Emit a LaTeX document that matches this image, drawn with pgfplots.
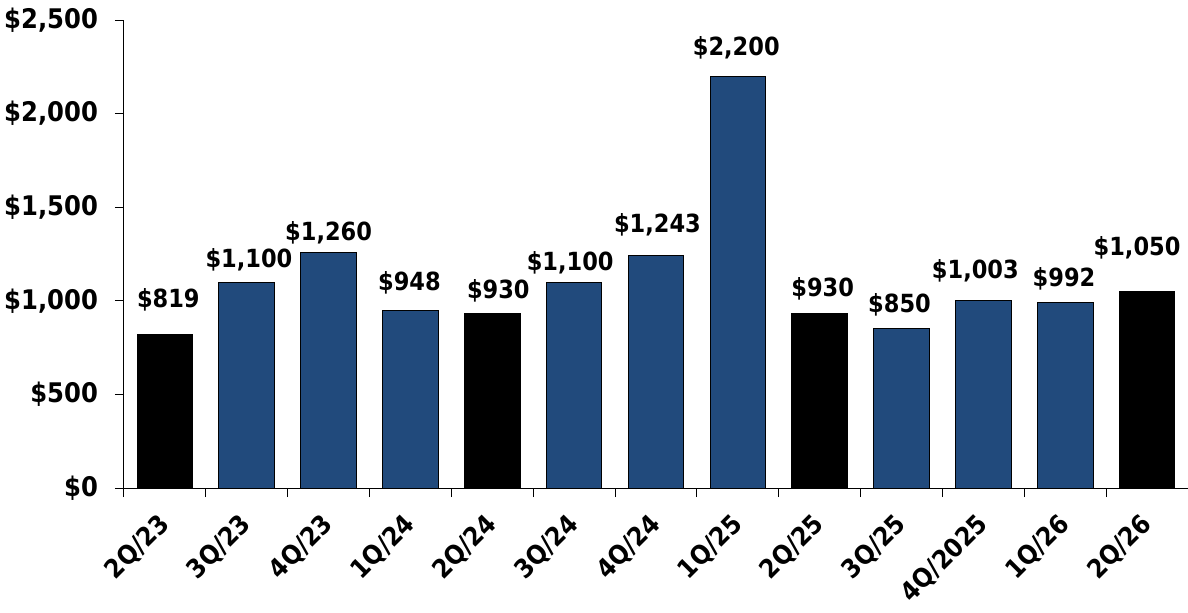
\documentclass[border=0pt]{standalone}
\usepackage{fontspec}
\IfFontExistsTF{DejaVu Sans Condensed}{\setmainfont{DejaVu Sans Condensed}}{\setmainfont{DejaVu Sans}[FakeStretch=0.9]}
\usepackage{pgfplots}
\pgfplotsset{compat=1.18}
\usepackage{pgfplotstable}
\definecolor{barblue}{RGB}{33,74,124}

% x = category index, lx/ly = label offsets (pt)
\pgfplotstableread{
x  y     lx    ly
1  1100  1.1   7.5
2  1260  0.0   5.8
3  948   -0.5  10.0
5  1100  -2.0  6.0
6  1243  0.7   11.3
7  2200  -0.8  10.3
9  850   -1.0  8.3
10 1003  -4.0  11.0
11 992   -0.6  7.8
}\bluebars

\pgfplotstableread{
x  y     lx    ly
0  819   1.7   13.5
4  930   3.0   7.8
8  930   1.5   8.8
12 1050  -5.0  18.0
}\blackbars

\begin{document}
\begin{tikzpicture}
\path[use as bounding box] (-62pt,-62pt) rectangle (532pt,244pt);
\begin{axis}[
    at={(0,0)}, anchor=south west,
    scale only axis,
    width=532pt, height=234pt,
    axis x line*=bottom, axis y line*=left,
    axis line style={line width=0.5pt},
    xmin=-0.5, xmax=12.5,
    ymin=0, ymax=2500,
    ytick={0,500,...,2500},
    scaled y ticks=false,
    /pgf/number format/.cd, 1000 sep={,}, assume math mode=true, /pgfplots/.cd,
    yticklabel={\$\pgfmathprintnumber{\tick}},
    xtick={0,...,12},
    xticklabels={2Q/23,3Q/23,4Q/23,1Q/24,2Q/24,3Q/24,4Q/24,1Q/25,2Q/25,3Q/25,4Q/2025,1Q/26,2Q/26},
    minor xtick={-0.5,0.5,...,11.5},
    major x tick style={draw=none},
    tick align=outside,
    major tick length=4.5pt, minor tick length=4.5pt,
    tick style={line width=0.5pt, black},
    yticklabel style={font=\fontsize{13.5}{16}\selectfont\bfseries, xshift=-5pt},
    xticklabel style={font=\fontsize{13}{15}\selectfont\bfseries,
        xshift=-4pt, yshift=-2.5pt, rotate=45, anchor=north east},
    ybar, bar width=0.68,
    clip=false,
    point meta=y,
    visualization depends on={\thisrow{lx} \as \lblx},
    visualization depends on={\thisrow{ly} \as \lbly},
    nodes near coords={\$\pgfmathprintnumber{\pgfplotspointmeta}},
    nodes near coords style={font=\fontsize{12.5}{15}\selectfont\bfseries, anchor=base,
        xshift=\lblx pt, yshift=\lbly pt, inner sep=0pt},
]
\addplot[fill=barblue, draw=black, line width=0.5pt, bar shift=0pt] table[x=x, y=y] {\bluebars};
\addplot[fill=black, draw=black, line width=0.5pt, bar shift=0pt] table[x=x, y=y] {\blackbars};
\end{axis}
\end{tikzpicture}
\end{document}
